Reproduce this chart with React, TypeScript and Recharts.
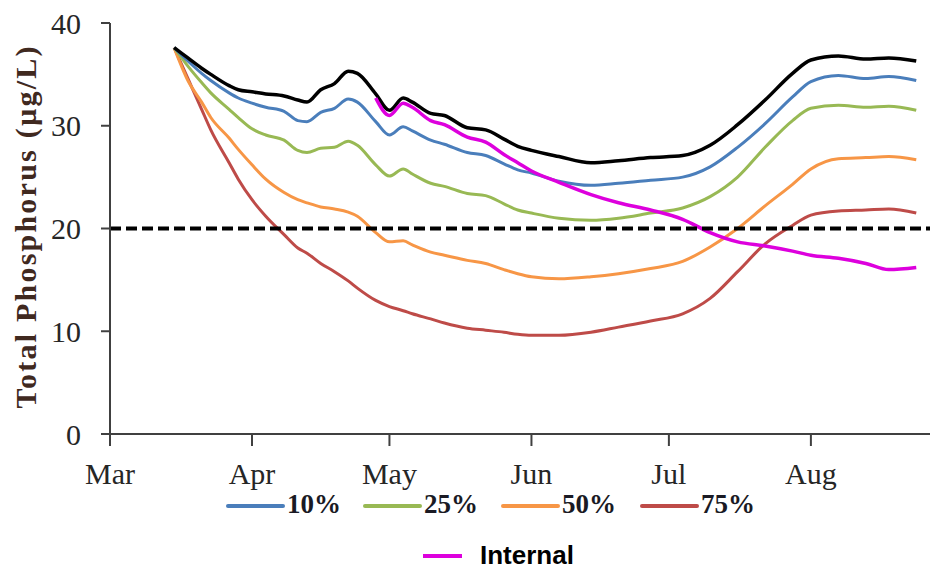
import { LineChart, Line, XAxis, YAxis, ReferenceLine } from 'recharts';

// days counted from 1 March
const days = [14, 17, 20, 22, 26, 28, 31, 34, 38, 41, 43, 46, 49, 52, 54, 58, 61, 64, 66, 70, 73, 78, 82, 86, 89, 92, 98, 105, 111, 118, 125, 131, 137, 143, 149, 153, 159, 165, 170, 176];

const total = [37.6, 36.6, 35.6, 35.0, 33.9, 33.5, 33.3, 33.1, 32.9, 32.5, 32.3, 33.5, 34.1, 35.3, 35.1, 33.1, 31.5, 32.7, 32.3, 31.2, 31.0, 29.8, 29.6, 28.7, 28.0, 27.6, 27.0, 26.4, 26.6, 26.9, 27.1, 28.1, 30.1, 32.5, 35.1, 36.4, 36.8, 36.5, 36.6, 36.3];
const p10 = [37.6, 36.3, 35.1, 34.4, 33.2, 32.7, 32.2, 31.8, 31.4, 30.5, 30.4, 31.3, 31.7, 32.6, 32.3, 30.4, 29.1, 29.9, 29.5, 28.6, 28.2, 27.4, 27.1, 26.3, 25.7, 25.4, 24.6, 24.2, 24.4, 24.7, 25.0, 26.0, 27.9, 30.2, 32.8, 34.3, 34.9, 34.6, 34.8, 34.4];
const p25 = [37.6, 35.8, 34.2, 33.2, 31.6, 30.8, 29.7, 29.1, 28.6, 27.6, 27.4, 27.8, 27.9, 28.5, 28.1, 26.2, 25.1, 25.8, 25.3, 24.4, 24.1, 23.4, 23.2, 22.4, 21.8, 21.5, 21.0, 20.8, 21.0, 21.5, 22.0, 23.1, 25.0, 27.9, 30.5, 31.7, 32.0, 31.8, 31.9, 31.5];
const p50 = [37.6, 34.4, 32.3, 30.8, 28.8, 27.7, 26.2, 24.8, 23.5, 22.8, 22.5, 22.1, 21.9, 21.6, 21.2, 19.6, 18.7, 18.8, 18.4, 17.7, 17.4, 16.9, 16.6, 16.0, 15.6, 15.3, 15.1, 15.3, 15.6, 16.1, 16.8, 18.2, 20.0, 22.2, 24.3, 25.8, 26.8, 26.9, 27.0, 26.7];
const p75 = [37.6, 34.6, 31.6, 29.6, 26.4, 24.8, 22.8, 21.2, 19.4, 18.1, 17.6, 16.6, 15.8, 14.9, 14.2, 13.0, 12.4, 12.0, 11.7, 11.2, 10.8, 10.3, 10.1, 9.9, 9.7, 9.6, 9.6, 9.9, 10.4, 11.0, 11.7, 13.2, 15.8, 18.5, 20.3, 21.3, 21.7, 21.8, 21.9, 21.5];
const internal = [null, null, null, null, null, null, null, null, null, null, null, null, null, null, null, 32.7, 31.0, 32.2, 31.8, 30.5, 30.1, 28.9, 28.4, 27.2, 26.4, 25.6, 24.5, 23.3, 22.5, 21.8, 20.9, 19.6, 18.7, 18.3, 17.8, 17.4, 17.1, 16.6, 16.0, 16.2];

const monthTicks = [0, 31, 61, 92, 122, 153];
const monthLabels = ['Mar', 'Apr', 'May', 'Jun', 'Jul', 'Aug'];
const yTicks = [0, 10, 20, 30, 40];
const target = 20;

const legendLabels = ['10%', '25%', '50%', '75%'];
const legendColors = ['#4a7ebb', '#98b954', '#f79646', '#be4b48'];
const legendX = [228, 365, 503, 642];

const data = days.map((d, i) => ({
  day: d,
  total: total[i],
  p10: p10[i],
  p25: p25[i],
  p50: p50[i],
  p75: p75[i],
  internal: internal[i],
}));

const serif = '"Liberation Serif", "Times New Roman", serif';

function YLabel({ viewBox }: any) {
  const cy = viewBox.y + viewBox.height / 2 - 1;
  return (
    <text
      x={36}
      y={cy}
      transform={`rotate(-90, 36, ${cy})`}
      textAnchor="middle"
      fontFamily={serif}
      fontWeight="bold"
      fontSize={30}
      fill="#40291f"
      textLength={362}
      lengthAdjust="spacing"
    >
      Total Phosphorus  (µg/L)
    </text>
  );
}

export default function App() {
  return (
    <div style={{ position: 'relative', width: 930, height: 569, background: '#fff' }}>
      <style>{'body{margin:0}'}</style>
      <LineChart width={930} height={569} data={data} margin={{ top: 23, right: 0, left: 0, bottom: 105 }}>
        <XAxis
          dataKey="day"
          type="number"
          domain={[0, 179]}
          ticks={monthTicks}
          tickFormatter={(v) => monthLabels[monthTicks.indexOf(v)]}
          height={30}
          tickSize={12}
          tickMargin={17}
          axisLine={{ stroke: '#404040', strokeWidth: 2 }}
          tickLine={{ stroke: '#404040', strokeWidth: 2 }}
          tick={{ fontFamily: serif, fontSize: 30, fill: '#262626' }}
        />
        <YAxis
          domain={[0, 40]}
          ticks={yTicks}
          width={110}
          tickSize={9}
          tickMargin={20}
          axisLine={{ stroke: '#404040', strokeWidth: 2 }}
          tickLine={{ stroke: '#404040', strokeWidth: 2 }}
          tick={{ fontFamily: serif, fontSize: 30, fill: '#262626' }}
          label={<YLabel />}
        />
        <Line type="monotone" dataKey="p75" stroke="#be4b48" strokeWidth={3} dot={false} isAnimationActive={false} />
        <Line type="monotone" dataKey="p50" stroke="#f79646" strokeWidth={3} dot={false} isAnimationActive={false} />
        <Line type="monotone" dataKey="p25" stroke="#98b954" strokeWidth={3} dot={false} isAnimationActive={false} />
        <Line type="monotone" dataKey="p10" stroke="#4a7ebb" strokeWidth={3} dot={false} isAnimationActive={false} />
        <Line type="monotone" dataKey="total" stroke="#000" strokeWidth={3.5} dot={false} isAnimationActive={false} />
        <Line type="monotone" dataKey="internal" stroke="#dd00dd" strokeWidth={3.5} dot={false} isAnimationActive={false} />
        <ReferenceLine y={target} stroke="#000" strokeWidth={4} strokeDasharray="11 5" />
      </LineChart>
      <svg width={930} height={569} style={{ position: 'absolute', left: 0, top: 0, pointerEvents: 'none' }}>
        {legendLabels.map((label, i) => (
          <g key={label}>
            <line x1={legendX[i]} x2={legendX[i] + 55} y1={506} y2={506} stroke={legendColors[i]} strokeWidth={4} strokeLinecap="round" />
            <text x={legendX[i] + 59} y={513} fontFamily={serif} fontWeight="bold" fontSize={27} fill="#1a1a24">
              {label}
            </text>
          </g>
        ))}
        <line x1={423} x2={462} y1={556} y2={556} stroke="#dd00dd" strokeWidth={4} />
        <text x={480} y={564} fontFamily='"Liberation Sans", Arial, sans-serif' fontWeight="bold" fontSize={26} fill="#000">
          Internal
        </text>
      </svg>
    </div>
  );
}
